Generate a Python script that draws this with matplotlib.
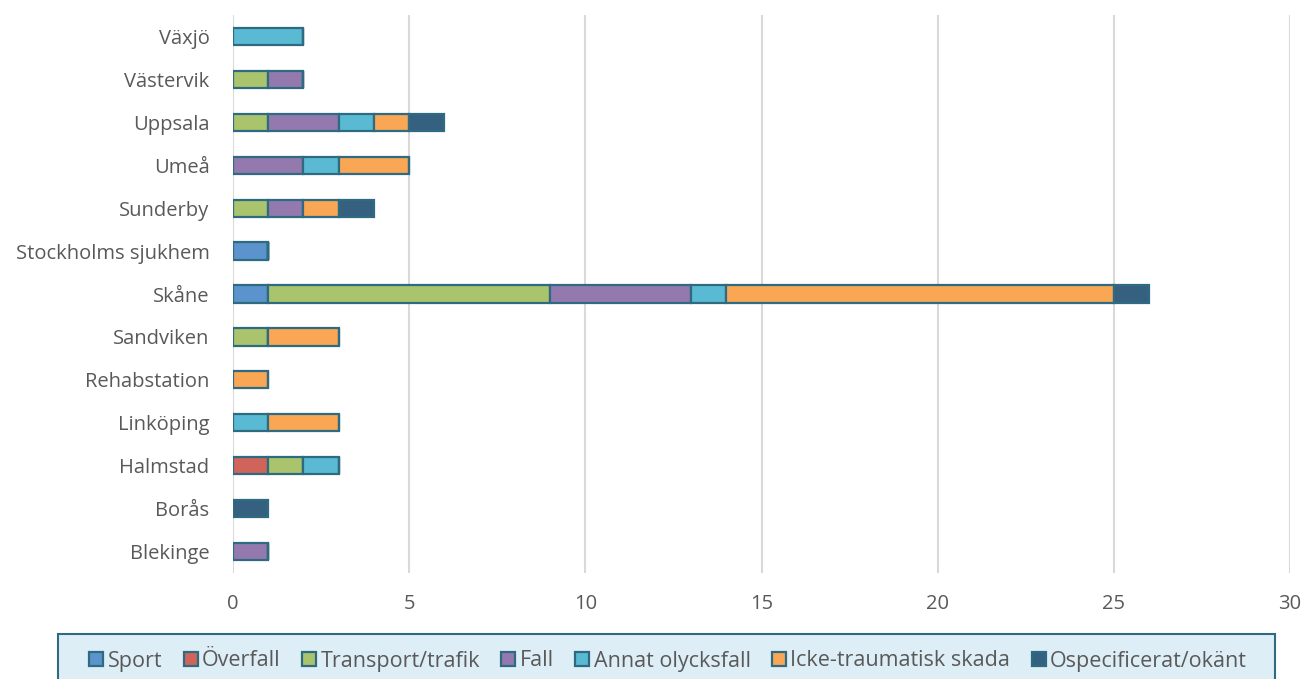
import numpy as np
import matplotlib.pyplot as plt
from matplotlib.patches import Patch, Rectangle

plt.rcParams['font.family'] = ['Open Sans', 'DejaVu Sans']

# sjukhus, nerifrån och upp
sites = ['Blekinge', 'Borås', 'Halmstad', 'Linköping', 'Rehabstation', 'Sandviken',
         'Skåne', 'Stockholms sjukhem', 'Sunderby', 'Umeå', 'Uppsala', 'Västervik', 'Växjö']

sport = [0, 0, 0, 0, 0, 0, 1, 1, 0, 0, 0, 0, 0]
overfall = [0, 0, 1, 0, 0, 0, 0, 0, 0, 0, 0, 0, 0]
transport = [0, 0, 1, 0, 0, 1, 8, 0, 1, 0, 1, 1, 0]
fall = [1, 0, 0, 0, 0, 0, 4, 0, 1, 2, 2, 1, 0]
annat = [0, 0, 1, 1, 0, 0, 1, 0, 0, 1, 1, 0, 2]
icke_traum = [0, 0, 0, 2, 1, 2, 11, 0, 1, 2, 1, 0, 0]
ospec = [0, 1, 0, 0, 0, 0, 1, 0, 1, 0, 1, 0, 0]

series = [
    ('Sport', sport, '#5B93CC'),
    ('Överfall', overfall, '#D0645A'),
    ('Transport/trafik', transport, '#A9C46C'),
    ('Fall', fall, '#9479AE'),
    ('Annat olycksfall', annat, '#5ABAD3'),
    ('Icke-traumatisk skada', icke_traum, '#F9A655'),
    ('Ospecificerat/okänt', ospec, '#35607F'),
]
edge = '#2E6A80'

W, H = 1305, 679
fig = plt.figure(figsize=(W / 100, H / 100), dpi=100)
ax = fig.add_axes([233 / W, 1 - 573 / H, (1290 - 233) / W, 558 / H])

y = np.arange(len(sites))
left = np.zeros(len(sites))
for name, vals, col in series:
    v = np.array(vals, dtype=float)
    ax.barh(y, v, left=left, height=0.4, color=col, edgecolor=edge, linewidth=1.6,
            label=name, zorder=3)
    left += v

ax.set_xlim(0, 30)
ax.set_ylim(-0.5, len(sites) - 0.5)
ax.set_xticks(range(0, 31, 5))
ax.set_yticks(y)
ax.set_yticklabels(sites)
ax.tick_params(axis='both', length=0, labelsize=14.5, labelcolor='#595959')
ax.tick_params(axis='y', pad=17)
ax.tick_params(axis='x', pad=15)
ax.grid(axis='x', color='#D9D9D9', linewidth=1.5, zorder=0)
for s in ax.spines.values():
    s.set_visible(False)

# legendruta med egen bakgrund (går ut under bildkanten)
box = Rectangle((58 / W, -0.05), (1275 - 58) / W, 0.05 + 1 - 634 / H,
                transform=fig.transFigure, facecolor='#DEEEF6', edgecolor=edge,
                linewidth=1.5, zorder=0)
fig.patches.append(box)

handles = [Patch(facecolor=c, edgecolor=edge, linewidth=1.6, label=n) for n, _, c in series]
leg = fig.legend(handles=handles, loc='center', bbox_to_anchor=(0.512, 1 - 661 / H),
                 ncol=7, fontsize=15.5, frameon=False,
                 handlelength=0.65, handleheight=0.65, handletextpad=0.2,
                 columnspacing=1.0, labelcolor='#595959')

fig.savefig('out.png', dpi=100)
